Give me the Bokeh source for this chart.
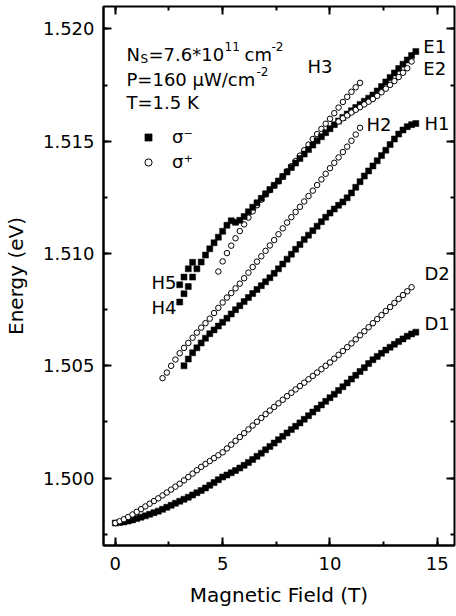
from bokeh.plotting import figure
from bokeh.models import (Range1d, LinearAxis, SingleIntervalTicker, NumeralTickFormatter,
                          Label, Legend, LegendItem)
from bokeh.embed import file_html
from bokeh.resources import INLINE

# ---------------- data ----------------
# D1 : sigma- (filled squares)
d1_field = [0.0, 0.2, 0.4, 0.6, 0.8, 1.0, 1.2, 1.4, 1.6, 1.8, 2.0, 2.2, 2.4, 2.6, 2.8,
            3.0, 3.2, 3.4, 3.6, 3.8, 4.0, 4.2, 4.4, 4.6, 4.8, 5.0, 5.2, 5.4, 5.6, 5.8,
            6.0, 6.2, 6.4, 6.6, 6.8, 7.0, 7.2, 7.4, 7.6, 7.8, 8.0, 8.2, 8.4, 8.6, 8.8,
            9.0, 9.2, 9.4, 9.6, 9.8, 10.0, 10.2, 10.4, 10.6, 10.8, 11.0, 11.2, 11.4, 11.6,
            11.8, 12.0, 12.2, 12.4, 12.6, 12.8, 13.0, 13.2, 13.4, 13.6, 13.8, 14.0]
d1_energy = [1.49800, 1.49802, 1.49805, 1.49809, 1.49814, 1.49820, 1.49826, 1.49832, 1.49839,
             1.49846, 1.49853, 1.49861, 1.49870, 1.49879, 1.49888, 1.49897, 1.49906, 1.49915,
             1.49925, 1.49935, 1.49945, 1.49956, 1.49968, 1.49980, 1.49993, 1.50005, 1.50014,
             1.50024, 1.50034, 1.50045, 1.50057, 1.50070, 1.50083, 1.50097, 1.50111, 1.50126,
             1.50141, 1.50156, 1.50171, 1.50186, 1.50201, 1.50216, 1.50231, 1.50246, 1.50262,
             1.50278, 1.50294, 1.50310, 1.50326, 1.50342, 1.50358, 1.50374, 1.50390, 1.50407,
             1.50424, 1.50441, 1.50458, 1.50475, 1.50492, 1.50510, 1.50527, 1.50542, 1.50556,
             1.50570, 1.50583, 1.50596, 1.50608, 1.50620, 1.50632, 1.50642, 1.50650]

# D2 : sigma+ (open circles)
d2_field = [0.0, 0.2, 0.4, 0.6, 0.8, 1.0, 1.2, 1.4, 1.6, 1.8, 2.0, 2.2, 2.4, 2.6, 2.8,
            3.0, 3.2, 3.4, 3.6, 3.8, 4.0, 4.2, 4.4, 4.6, 4.8, 5.0, 5.2, 5.4, 5.6, 5.8,
            6.0, 6.2, 6.4, 6.6, 6.8, 7.0, 7.2, 7.4, 7.6, 7.8, 8.0, 8.2, 8.4, 8.6, 8.8,
            9.0, 9.2, 9.4, 9.6, 9.8, 10.0, 10.2, 10.4, 10.6, 10.8, 11.0, 11.2, 11.4, 11.6,
            11.8, 12.0, 12.2, 12.4, 12.6, 12.8, 13.0, 13.2, 13.4, 13.6, 13.8]
d2_energy = [1.49800, 1.49808, 1.49817, 1.49827, 1.49838, 1.49850, 1.49862, 1.49874, 1.49886,
             1.49898, 1.49910, 1.49923, 1.49936, 1.49949, 1.49962, 1.49975, 1.49990, 1.50005,
             1.50020, 1.50035, 1.50050, 1.50063, 1.50076, 1.50089, 1.50102, 1.50115, 1.50132,
             1.50149, 1.50166, 1.50183, 1.50200, 1.50217, 1.50234, 1.50251, 1.50268, 1.50285,
             1.50301, 1.50317, 1.50333, 1.50349, 1.50365, 1.50380, 1.50395, 1.50410, 1.50425,
             1.50440, 1.50455, 1.50470, 1.50485, 1.50500, 1.50515, 1.50532, 1.50549, 1.50566,
             1.50583, 1.50600, 1.50618, 1.50636, 1.50654, 1.50672, 1.50690, 1.50708, 1.50726,
             1.50744, 1.50762, 1.50780, 1.50798, 1.50815, 1.50832, 1.50850]

# H1 : sigma- (filled squares)
h1_field = [3.2, 3.4, 3.6, 3.8, 4.0, 4.2, 4.4, 4.6, 4.8, 5.0, 5.2, 5.4, 5.6, 5.8, 6.0,
            6.2, 6.4, 6.6, 6.8, 7.0, 7.2, 7.4, 7.6, 7.8, 8.0, 8.2, 8.4, 8.6, 8.8, 9.0,
            9.2, 9.4, 9.6, 9.8, 10.0, 10.2, 10.4, 10.6, 10.8, 11.0, 11.2, 11.4, 11.6, 11.8,
            12.0, 12.2, 12.4, 12.6, 12.8, 13.0, 13.2, 13.4, 13.6, 13.8, 14.0]
h1_energy = [1.50500, 1.50530, 1.50558, 1.50580, 1.50602, 1.50623, 1.50643, 1.50660, 1.50677,
             1.50694, 1.50712, 1.50731, 1.50750, 1.50768, 1.50786, 1.50804, 1.50822, 1.50840,
             1.50857, 1.50874, 1.50892, 1.50912, 1.50932, 1.50953, 1.50975, 1.50997, 1.51019,
             1.51040, 1.51062, 1.51082, 1.51102, 1.51122, 1.51142, 1.51162, 1.51180, 1.51198,
             1.51215, 1.51230, 1.51248, 1.51270, 1.51295, 1.51320, 1.51345, 1.51368, 1.51390,
             1.51413, 1.51436, 1.51460, 1.51485, 1.51510, 1.51532, 1.51550, 1.51565, 1.51574,
             1.51579]

# H2 : sigma+ (open circles)
h2_field = [2.2, 2.4, 2.6, 2.8, 3.0, 3.2, 3.4, 3.6, 3.8, 4.0, 4.2, 4.4, 4.6, 4.8, 5.0,
            5.2, 5.4, 5.6, 5.8, 6.0, 6.2, 6.4, 6.6, 6.8, 7.0, 7.2, 7.4, 7.6, 7.8, 8.0,
            8.2, 8.4, 8.6, 8.8, 9.0, 9.2, 9.4, 9.6, 9.8, 10.0, 10.2, 10.4, 10.6, 10.8,
            11.0, 11.2, 11.4]
h2_energy = [1.50445, 1.50470, 1.50500, 1.50528, 1.50556, 1.50580, 1.50602, 1.50625, 1.50648,
             1.50670, 1.50690, 1.50710, 1.50735, 1.50758, 1.50782, 1.50804, 1.50824, 1.50845,
             1.50866, 1.50890, 1.50915, 1.50940, 1.50964, 1.50988, 1.51012, 1.51036, 1.51060,
             1.51086, 1.51112, 1.51138, 1.51162, 1.51185, 1.51208, 1.51232, 1.51256, 1.51280,
             1.51305, 1.51330, 1.51355, 1.51380, 1.51404, 1.51428, 1.51452, 1.51476, 1.51502,
             1.51530, 1.51560]

# H5 and H4 : sigma- (filled squares)
h5_field = [3.0, 3.2, 3.4, 3.6]
h5_energy = [1.50861, 1.50895, 1.50932, 1.50961]
h4_field = [3.0, 3.2, 3.4, 3.6]
h4_energy = [1.50784, 1.50821, 1.50853, 1.50895]

# E1 : sigma- (filled squares)
e1_field = [3.8, 4.0, 4.2, 4.4, 4.6, 4.8, 5.0, 5.2, 5.4, 5.6, 5.8, 6.0, 6.2, 6.4, 6.6,
            6.8, 7.0, 7.2, 7.4, 7.6, 7.8, 8.0, 8.2, 8.4, 8.6, 8.8, 9.0, 9.2, 9.4, 9.6,
            9.8, 10.0, 10.2, 10.4, 10.6, 10.8, 11.0, 11.2, 11.4, 11.6, 11.8, 12.0, 12.2,
            12.4, 12.6, 12.8, 13.0, 13.2, 13.4, 13.6, 13.8, 14.0]
e1_energy = [1.50932, 1.50962, 1.50993, 1.51021, 1.51048, 1.51073, 1.51099, 1.51126, 1.51146,
             1.51139, 1.51148, 1.51165, 1.51186, 1.51206, 1.51226, 1.51246, 1.51266, 1.51285,
             1.51304, 1.51323, 1.51343, 1.51363, 1.51383, 1.51403, 1.51423, 1.51443, 1.51463,
             1.51483, 1.51502, 1.51520, 1.51538, 1.51556, 1.51574, 1.51590, 1.51606, 1.51621,
             1.51636, 1.51650, 1.51664, 1.51678, 1.51692, 1.51706, 1.51724, 1.51744, 1.51764,
             1.51784, 1.51804, 1.51824, 1.51843, 1.51862, 1.51882, 1.51900]

# H3 : sigma+ (open circles)
h3_field = [4.8, 5.0, 5.2, 5.4, 5.6, 5.8, 6.0, 6.2, 6.4, 6.6, 6.8, 7.0, 7.2, 7.4, 7.6,
            7.8, 8.0, 8.2, 8.4, 8.6, 8.8, 9.0, 9.2, 9.4, 9.6, 9.8, 10.0, 10.2, 10.4, 10.6,
            10.8, 11.0, 11.2, 11.4]
h3_energy = [1.50920, 1.50965, 1.51002, 1.51035, 1.51068, 1.51100, 1.51130, 1.51160, 1.51188,
             1.51215, 1.51240, 1.51263, 1.51282, 1.51302, 1.51322, 1.51343, 1.51366, 1.51389,
             1.51412, 1.51436, 1.51460, 1.51485, 1.51510, 1.51532, 1.51555, 1.51578, 1.51600,
             1.51625, 1.51650, 1.51675, 1.51698, 1.51720, 1.51740, 1.51760]

# E2 : sigma+ (open circles)
e2_field = [10.4, 10.6, 10.8, 11.0, 11.2, 11.4, 11.6, 11.8, 12.0, 12.2, 12.4, 12.6, 12.8,
            13.0, 13.2, 13.4, 13.6, 13.8]
e2_energy = [1.51588, 1.51602, 1.51615, 1.51628, 1.51640, 1.51652, 1.51664, 1.51676, 1.51688,
             1.51702, 1.51718, 1.51734, 1.51751, 1.51768, 1.51786, 1.51805, 1.51825, 1.51855]

x_ticks_interval = 5
y_ticks_interval = 0.005

# ---------------- figure ----------------
FONT = "DejaVu Sans"

p = figure(width=456, height=616, output_backend="svg", toolbar_location=None,
           x_range=Range1d(-0.55, 15.8), y_range=Range1d(1.497, 1.521),
           min_border_left=100, min_border_right=2, min_border_top=6, min_border_bottom=71,
           background_fill_color="white", border_fill_color="white")
p.grid.visible = False
p.outline_line_color = "black"
p.outline_line_width = 2


def style_axis(ax):
    ax.axis_line_width = 2
    ax.axis_line_color = "black"
    ax.major_tick_in = 8
    ax.major_tick_out = 0
    ax.minor_tick_in = 4
    ax.minor_tick_out = 0
    ax.major_tick_line_width = 2
    ax.minor_tick_line_width = 2
    ax.major_tick_line_color = "black"
    ax.minor_tick_line_color = "black"
    ax.major_label_text_font = FONT
    ax.major_label_text_font_size = "18px"
    ax.major_label_text_color = "black"
    ax.axis_label_text_font = FONT
    ax.axis_label_text_font_size = "20px"
    ax.axis_label_text_font_style = "normal"
    ax.axis_label_text_color = "black"


xt = SingleIntervalTicker(interval=x_ticks_interval, num_minor_ticks=2)
yt = SingleIntervalTicker(interval=y_ticks_interval, num_minor_ticks=2)

p.xaxis.ticker = xt
p.yaxis.ticker = yt
p.yaxis.formatter = NumeralTickFormatter(format="0.000")
p.xaxis.axis_label = "Magnetic Field (T)"
p.yaxis.axis_label = "Energy (eV)"
style_axis(p.xaxis[0])
style_axis(p.yaxis[0])
p.xaxis.major_label_standoff = 11
p.xaxis.axis_label_standoff = 10
p.yaxis.major_label_standoff = 9
p.yaxis.axis_label_standoff = 12

# mirror axes (ticks only) on top and right
top = LinearAxis(ticker=SingleIntervalTicker(interval=x_ticks_interval, num_minor_ticks=2))
right = LinearAxis(ticker=SingleIntervalTicker(interval=y_ticks_interval, num_minor_ticks=2))
for ax in (top, right):
    style_axis(ax)
    ax.major_label_text_font_size = "1px"
    ax.major_label_text_color = None
    ax.major_label_standoff = 0
    ax.axis_line_color = None
p.add_layout(top, "above")
p.add_layout(right, "right")

# ---------------- data marks ----------------
def filled(xs, ys):
    return p.scatter(xs, ys, marker="square", size=6, fill_color="black",
                     line_color="black", line_width=0.5)


def opened(xs, ys):
    return p.scatter(xs, ys, marker="circle", size=5.5, fill_color="white",
                     line_color="black", line_width=1)


r_d1 = filled(d1_field, d1_energy)
r_d2 = opened(d2_field, d2_energy)
filled(h1_field, h1_energy)
opened(h2_field, h2_energy)
filled(h5_field, h5_energy)
filled(h4_field, h4_energy)
opened(h3_field, h3_energy)
filled(e1_field, e1_energy)
opened(e2_field, e2_energy)

# ---------------- series labels ----------------
def tag(txt, x, y, align="left"):
    p.add_layout(Label(x=x, y=y, text=txt, text_font=FONT, text_font_size="18px",
                       text_color="black", text_align=align, text_baseline="middle"))


tag("E1", 14.35, 1.51924)
tag("E2", 14.35, 1.51822)
tag("H3", 8.95, 1.51835)
tag("H2", 11.7, 1.51573)
tag("H1", 14.4, 1.51578)
tag("D2", 14.4, 1.50913)
tag("D1", 14.4, 1.50687)
tag("H5", 2.85, 1.50869, "right")
tag("H4", 2.85, 1.50758, "right")

# ---------------- conditions text (screen px inside frame) ----------------
FL, FB = 100, 545   # approximate frame left / bottom in page pixels


def txt(t, X, Y, size="18px"):
    p.add_layout(Label(x=X - FL, y=FB - Y, x_units="screen", y_units="screen", text=t,
                       text_font=FONT, text_font_size=size, text_color="black",
                       text_baseline="alphabetic", text_align="left"))


# line 1
txt("N", 123, 54)
txt("S", 137, 58, "12px")
txt("=7.6*10", 145, 54)
txt("11", 221, 46, "12px")
txt("cm", 241, 54)
txt("-2", 268, 46, "12px")
# line 2
txt("P=160 \u03bcW/cm", 123, 79)
txt("-2", 253, 71, "12px")
# line 3
txt("T=1.5 K", 123, 102)

# legend
legend = Legend(items=[LegendItem(label="\u03c3\u207b", renderers=[r_d1]),
                       LegendItem(label="\u03c3\u207a", renderers=[r_d2])],
                location=(36, 373), border_line_color=None, background_fill_alpha=0,
                padding=0, margin=0, spacing=4, glyph_width=18, glyph_height=20,
                label_height=20, label_standoff=15, label_text_font=FONT,
                label_text_font_size="18px", label_text_color="black")
p.add_layout(legend)

open("out.html", "w").write(file_html(p, INLINE))
